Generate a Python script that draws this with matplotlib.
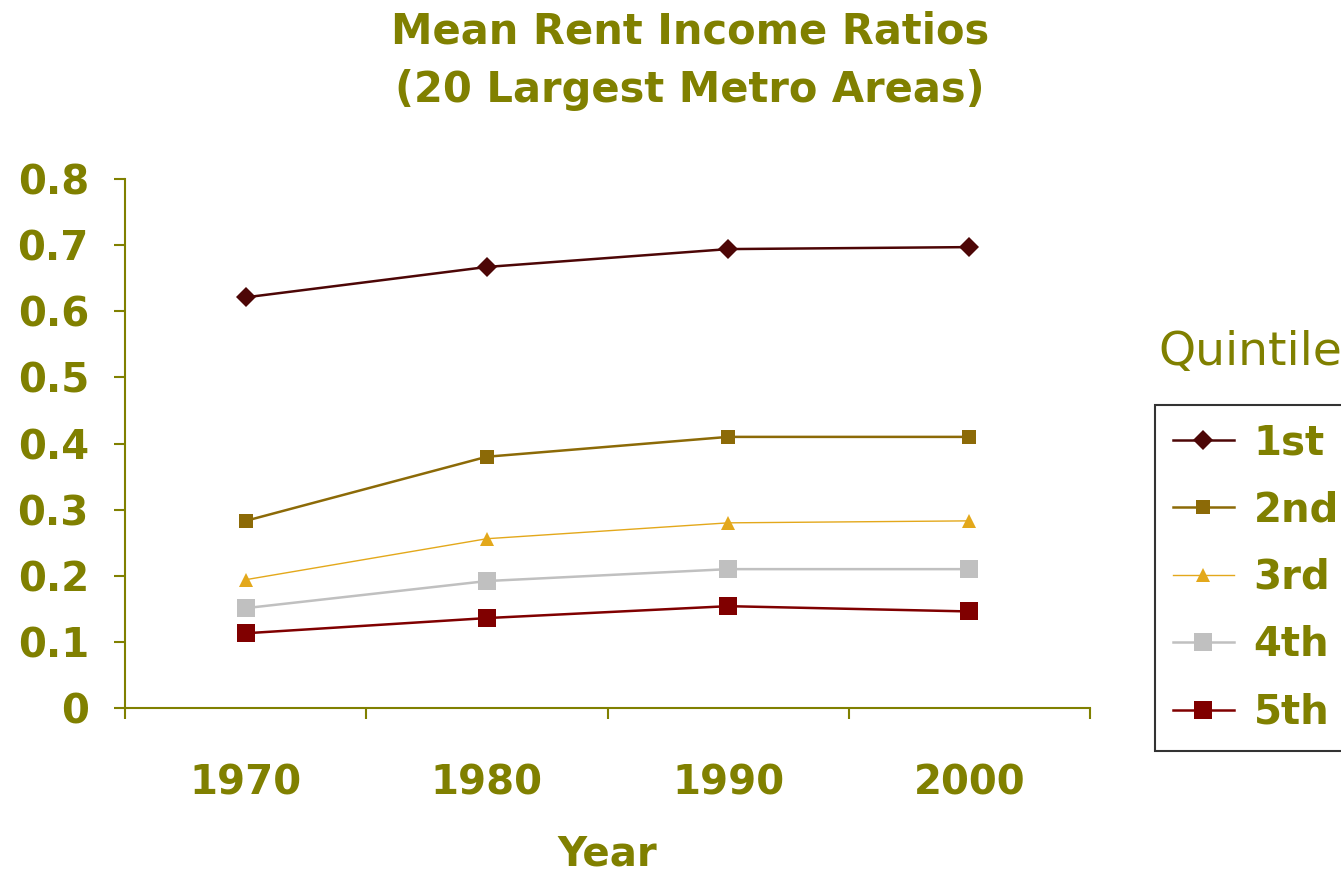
import matplotlib
matplotlib.use("Agg")
import matplotlib.pyplot as plt
from matplotlib.ticker import FixedLocator

years = ["1970", "1980", "1990", "2000"]
q1 = [0.621, 0.667, 0.694, 0.697]
q2 = [0.283, 0.380, 0.410, 0.410]
q3 = [0.194, 0.256, 0.280, 0.283]
q4 = [0.151, 0.192, 0.210, 0.210]
q5 = [0.113, 0.136, 0.154, 0.146]
labels = ["1st", "2nd", "3rd", "4th", "5th"]

olive = "#808000"
plt.rcParams['font.family'] = ['DejaVu Sans']

fig = plt.figure(figsize=(13.41, 8.75), dpi=100)
ax = fig.add_axes([125 / 1341, 1 - 708 / 875, (1090 - 125) / 1341, (708 - 179) / 875])

x = list(range(len(years)))
# 系列样式
styles = [
    dict(color="#4d0606", marker="D", ms=10.5, lw=1.8),
    dict(color="#8c6a07", marker="s", ms=10.5, lw=1.8),
    dict(color="#e3a81b", marker="^", ms=9.5, lw=1.0),
    dict(color="#c0c0c0", marker="s", ms=12.5, lw=1.8),
    dict(color="#800000", marker="s", ms=12.5, lw=1.8),
]
handles = []
for vals, st, lab in zip([q1, q2, q3, q4, q5], styles, labels):
    h, = ax.plot(x, vals, color=st["color"], marker=st["marker"], markersize=st["ms"],
                 linewidth=st["lw"], markeredgewidth=0, label=lab)
    handles.append(h)

ax.set_xlim(-0.5, 3.5)
ax.set_ylim(0, 0.8)
ax.set_yticks([0, 0.1, 0.2, 0.3, 0.4, 0.5, 0.6, 0.7, 0.8])
ax.set_yticklabels(["0", "0.1", "0.2", "0.3", "0.4", "0.5", "0.6", "0.7", "0.8"])
ax.xaxis.set_major_locator(FixedLocator([-0.5, 0.5, 1.5, 2.5, 3.5]))
ax.xaxis.set_minor_locator(FixedLocator(x))
ax.set_xticklabels([], minor=False)
ax.set_xticklabels(years, minor=True)

for s in ["top", "right"]:
    ax.spines[s].set_visible(False)
for s in ["left", "bottom"]:
    ax.spines[s].set_color(olive)
    ax.spines[s].set_linewidth(1.5)

ax.tick_params(axis="y", which="major", direction="out", length=8, width=1.5, color=olive,
               labelcolor=olive, labelsize=29, pad=18)
ax.tick_params(axis="x", which="major", direction="out", length=8, width=1.5, color=olive)
ax.tick_params(axis="x", which="minor", length=0, labelcolor=olive, labelsize=29, pad=40)
for t in ax.get_yticklabels() + ax.get_xticklabels(minor=True):
    t.set_fontweight("bold")

ax.set_xlabel("Year", fontsize=29, fontweight="bold", color=olive, labelpad=22)

fig.text(690 / 1341, 1 - 32 / 875, "Mean Rent Income Ratios", ha="center", va="center",
         fontsize=30, fontweight="bold", color=olive)
fig.text(690 / 1341, 1 - 90 / 875, "(20 Largest Metro Areas)", ha="center", va="center",
         fontsize=30, fontweight="bold", color=olive)

fig.text(1158 / 1341, 1 - 352 / 875, "Quintile", ha="left", va="center",
         fontsize=34, color=olive)

leg = fig.legend(handles=handles, loc="upper left", bbox_to_anchor=(1155 / 1341, 1 - 405 / 875),
                 frameon=True, fancybox=False, edgecolor="black", fontsize=29,
                 handlelength=1.5, handletextpad=0.5, labelspacing=0.68, borderpad=0.45,
                 borderaxespad=0)
leg.get_frame().set_linewidth(1.5)
for t in leg.get_texts():
    t.set_color(olive)
    t.set_fontweight("bold")

fig.savefig("out.png", dpi=100)
